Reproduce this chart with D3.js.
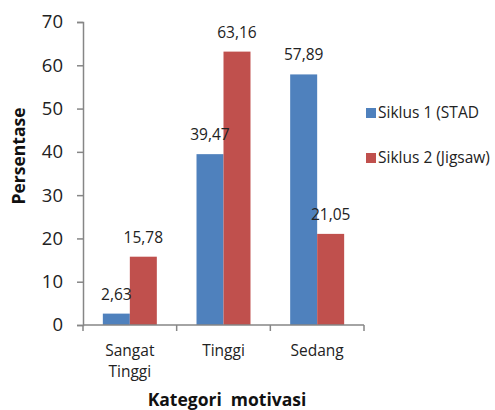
<!DOCTYPE html>
<html>
<head>
<meta charset="utf-8">
<script src="https://cdn.jsdelivr.net/npm/d3@7"></script>
<style>
  html, body { margin: 0; padding: 0; background: #fff; }
  svg { display: block; font-family: "Open Sans", "DejaVu Sans", sans-serif; }
</style>
</head>
<body>
<svg id="chart" width="495" height="410"></svg>
<script>
// Persentase motivasi siswa per kategori, dua siklus pembelajaran
const categories = [["Sangat", "Tinggi"], ["Tinggi"], ["Sedang"]];
const seriesNames = ["Siklus 1 (STAD", "Siklus 2 (Jigsaw)"];
const siklus1 = [2.63, 39.47, 57.89];
const siklus2 = [15.78, 63.16, 21.05];
const yTicks = [0, 10, 20, 30, 40, 50, 60, 70];
const colors = ["#4F81BD", "#C0504D"];

const svg = d3.select("#chart");
const plot = { left: 83, right: 364, top: 22, bottom: 325 };
const axisColor = "#868686";

const catKeys = categories.map(c => c.join(" "));
const x = d3.scaleBand().domain(catKeys).range([plot.left, plot.right]);
const xs = d3.scaleBand().domain(seriesNames).range([0, x.bandwidth()])
  .paddingInner(0).paddingOuter(0.735);
const y = d3.scaleLinear().domain([0, 70]).range([plot.bottom, plot.top]);

const fmt = v => d3.format(".2f")(v).replace(".", ",");

// Sumbu Y
const yAxis = d3.axisLeft(y).tickValues(yTicks).tickSize(6).tickPadding(14)
  .tickFormat(d3.format("d"));
const gy = svg.append("g").attr("transform", `translate(${plot.left},0)`).call(yAxis);
gy.select(".domain").attr("stroke", axisColor).attr("stroke-width", 1.5);
gy.selectAll(".tick line").attr("stroke", axisColor).attr("stroke-width", 1.5);
gy.selectAll(".tick text").attr("fill", "#222").attr("font-size", "18.5px")
  .attr("font-family", "'Open Sans', sans-serif");

// Batang
const rows = catKeys.map((k, i) => ({ key: k, values: [siklus1[i], siklus2[i]] }));
const groups = svg.append("g").selectAll("g").data(rows).join("g")
  .attr("transform", d => `translate(${x(d.key)},0)`);

groups.selectAll("rect").data(d => d.values.map((v, j) => ({ v, s: seriesNames[j], j })))
  .join("rect")
  .attr("x", d => xs(d.s))
  .attr("y", d => y(d.v))
  .attr("width", xs.bandwidth())
  .attr("height", d => y(0) - y(d.v))
  .attr("fill", d => colors[d.j]);

groups.selectAll("text").data(d => d.values.map((v, j) => ({ v, s: seriesNames[j], j })))
  .join("text")
  .attr("x", d => xs(d.s) + xs.bandwidth() / 2)
  .attr("y", d => y(d.v) - 14)
  .attr("text-anchor", "middle")
  .attr("font-size", "15.5px")
  .attr("fill", "#222")
  .text(d => fmt(d.v));

// Sumbu X
svg.append("line")
  .attr("x1", plot.left).attr("x2", plot.right)
  .attr("y1", plot.bottom).attr("y2", plot.bottom)
  .attr("stroke", axisColor).attr("stroke-width", 1.5);
const bounds = catKeys.map(k => x(k)).concat([plot.right]);
svg.append("g").selectAll("line").data(bounds).join("line")
  .attr("x1", d => d).attr("x2", d => d)
  .attr("y1", plot.bottom).attr("y2", plot.bottom + 6)
  .attr("stroke", axisColor).attr("stroke-width", 1.5);

const catLabels = svg.append("g").selectAll("text").data(categories).join("text")
  .attr("x", (d, i) => x(catKeys[i]) + x.bandwidth() / 2)
  .attr("y", 356)
  .attr("text-anchor", "middle")
  .attr("font-size", "15.5px")
  .attr("fill", "#222");
catLabels.selectAll("tspan").data(d => d).join("tspan")
  .attr("x", function () { return d3.select(this.parentNode).attr("x"); })
  .attr("dy", (d, i) => i === 0 ? 0 : 21)
  .text(d => d);

// Judul sumbu
svg.append("text")
  .attr("x", 227).attr("y", 406)
  .attr("text-anchor", "middle")
  .attr("font-size", "17.5px").attr("font-weight", "bold")
  .attr("fill", "#111")
  .attr("xml:space", "preserve")
  .text("Kategori  motivasi");

svg.append("text")
  .attr("transform", "translate(25,156) rotate(-90)")
  .attr("text-anchor", "middle")
  .attr("font-size", "17.5px").attr("font-weight", "bold")
  .attr("fill", "#111")
  .text("Persentase");

// Legenda
const legend = svg.append("g").selectAll("g").data(seriesNames).join("g")
  .attr("transform", (d, i) => `translate(366,${108 + i * 45})`);
legend.append("rect").attr("width", 10).attr("height", 10)
  .attr("fill", (d, i) => colors[i]);
legend.append("text").attr("x", 12).attr("y", 10)
  .attr("font-size", "15.5px").attr("fill", "#222")
  .text(d => d);
</script>
</body>
</html>
